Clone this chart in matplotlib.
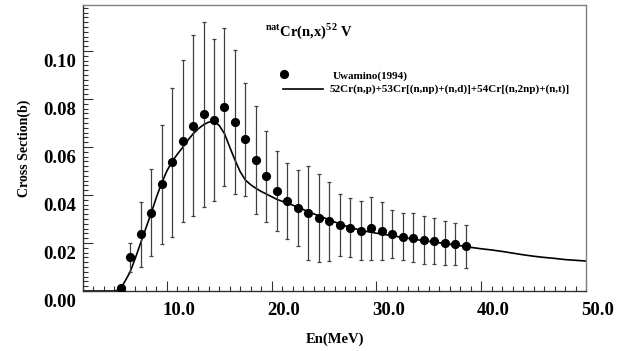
import matplotlib
matplotlib.use("Agg")
import matplotlib.pyplot as plt
import matplotlib.transforms as mtransforms
from matplotlib.lines import Line2D
from matplotlib.ticker import MultipleLocator, FixedLocator
import numpy as np

plt.rcParams["font.family"] = ["Liberation Serif", "DejaVu Serif"]
plt.rcParams["font.weight"] = "bold"
plt.rcParams["mathtext.fontset"] = "custom"
plt.rcParams["mathtext.rm"] = "Liberation Serif:bold"
plt.rcParams["mathtext.bf"] = "Liberation Serif:bold"

# Uwamino (1994) measurement: neutron energy (MeV), cross section (b), uncertainty (b)
exp_energy = [5.6, 6.5, 7.5, 8.5, 9.5, 10.5, 11.5, 12.5, 13.5, 14.5,
              15.5, 16.5, 17.5, 18.5, 19.5, 20.5, 21.5, 22.5, 23.5, 24.5,
              25.5, 26.5, 27.5, 28.5, 29.5, 30.5, 31.5, 32.5, 33.5, 34.5,
              35.5, 36.5, 37.5, 38.5]
exp_xs = [0.0014, 0.0140, 0.0236, 0.0326, 0.0445, 0.0536, 0.0625, 0.0689, 0.0736, 0.0713,
          0.0768, 0.0705, 0.0632, 0.0546, 0.0479, 0.0417, 0.0376, 0.0347, 0.0325, 0.0305,
          0.0291, 0.0275, 0.0264, 0.0251, 0.0261, 0.0250, 0.0239, 0.0226, 0.0222, 0.0214,
          0.0208, 0.0200, 0.0195, 0.0186]
exp_err = [0.0000, 0.0060, 0.0137, 0.0182, 0.0247, 0.0310, 0.0339, 0.0377, 0.0386, 0.0337,
           0.0330, 0.0300, 0.0236, 0.0226, 0.0190, 0.0166, 0.0158, 0.0158, 0.0196, 0.0184,
           0.0165, 0.0130, 0.0123, 0.0123, 0.0130, 0.0120, 0.0100, 0.0098, 0.0102, 0.0100,
           0.0096, 0.0090, 0.0087, 0.0091]

# Summed evaluated reaction channels
calc_energy = [2.0, 3.0, 4.0, 5.0, 5.5, 6.0, 6.5, 7.0, 7.5, 8.0,
               8.5, 9.0, 9.5, 10.0, 10.5, 11.0, 11.5, 12.0, 12.5, 13.0,
               13.5, 14.0, 14.5, 15.0, 15.5, 16.0, 16.5, 17.0, 17.5, 18.0,
               18.5, 19.0, 19.5, 20.0, 20.5, 21.0, 21.5, 22.0, 22.5, 23.0,
               24.0, 25.0, 26.0, 27.0, 28.0, 29.0, 30.0, 31.0, 32.0, 33.0,
               34.0, 35.0, 36.0, 37.0, 38.0, 39.0, 40.0, 41.0, 42.0, 43.0,
               44.0, 45.0, 46.0, 47.0, 48.0, 49.0, 50.0]
calc_xs = [0.0, 0.0, 0.0, 0.0, 0.0005, 0.0040, 0.0080, 0.0138, 0.0200, 0.0262,
           0.0324, 0.0390, 0.0450, 0.0500, 0.0540, 0.0570, 0.0598, 0.0628, 0.0655, 0.0676,
           0.0693, 0.0704, 0.0707, 0.0690, 0.0656, 0.0600, 0.0546, 0.0497, 0.0462, 0.0443,
           0.0428, 0.0415, 0.0404, 0.0393, 0.0382, 0.0374, 0.0366, 0.0358, 0.0350, 0.0340,
           0.0322, 0.0305, 0.0288, 0.0272, 0.0259, 0.0249, 0.0241, 0.0234, 0.0227, 0.0220,
           0.0213, 0.0207, 0.0201, 0.0195, 0.0189, 0.0182, 0.0176, 0.0171, 0.0165, 0.0158,
           0.0151, 0.0145, 0.0140, 0.0136, 0.0131, 0.0128, 0.0125]

x_ticks = [10, 20, 30, 40, 50]
x_ticklabels = ["10.0", "20.0", "30.0", "40.0", "50.0"]
y_ticks = [0.00, 0.02, 0.04, 0.06, 0.08, 0.10]
y_ticklabels = ["0.00", "0.02", "0.04", "0.06", "0.08", "0.10"]

fig = plt.figure(figsize=(6.43, 3.51), dpi=100)
ax = fig.add_axes([0.1291, 0.1709, 0.7823, 0.8148])

ax.plot(calc_energy, calc_xs, color="black", lw=1.2, zorder=2)
ax.errorbar(exp_energy, exp_xs, yerr=exp_err, fmt="o", color="black",
            markersize=5.6, ecolor="#404040", elinewidth=0.9,
            capsize=1.5, capthick=0.9, zorder=3)

ax.set_xlim(2.0, 50.0)
ax.set_ylim(0.0, 0.1192)

ax.xaxis.set_major_locator(FixedLocator(x_ticks))
ax.set_xticklabels(x_ticklabels)
ax.xaxis.set_minor_locator(MultipleLocator(1.0))
ax.yaxis.set_major_locator(FixedLocator(y_ticks))
ax.set_yticklabels(y_ticklabels)
ax.yaxis.set_minor_locator(MultipleLocator(0.002))

ax.tick_params(axis="both", which="both", direction="in", top=False, right=False,
               color="#333333", width=0.8)
ax.tick_params(axis="both", which="major", length=7, labelsize=13.5)
ax.tick_params(axis="both", which="minor", length=3.5)
ax.tick_params(axis="x", which="major", pad=8)
ax.tick_params(axis="y", which="major", pad=5)

# Tick labels sit slightly off their ticks: right for x, below for y
dx = mtransforms.ScaledTranslation(12 / 100, 0, fig.dpi_scale_trans)
for lab in ax.get_xticklabels():
    lab.set_transform(lab.get_transform() + dx)
    lab.set_fontweight("bold")
dy = mtransforms.ScaledTranslation(0, -9 / 100, fig.dpi_scale_trans)
for lab in ax.get_yticklabels():
    lab.set_transform(lab.get_transform() + dy)
    lab.set_fontweight("bold")

for side in ["top", "right"]:
    ax.spines[side].set_color("#808080")
    ax.spines[side].set_linewidth(1.0)
for side in ["left", "bottom"]:
    ax.spines[side].set_color("#333333")
    ax.spines[side].set_linewidth(1.0)

ax.set_xlabel("En(MeV)", fontsize=10.5, fontweight="bold", labelpad=10)
ax.set_ylabel("Cross Section(b)", fontsize=10, fontweight="bold", labelpad=9)

ax.text(0.362, 0.892, r"$^{\rm nat}$Cr(n,x)$^{\rm 52}$ V", transform=ax.transAxes,
        fontsize=10.5, fontweight="bold", ha="left", va="baseline")

# Legend entries
ax.add_line(Line2D([0.3996], [0.759], marker="o", markersize=5.6, color="black",
                   linestyle="none", transform=ax.transAxes))
ax.add_line(Line2D([0.3976, 0.477], [0.706, 0.706], color="black", lw=1.2,
                   transform=ax.transAxes))
ax.text(0.497, 0.752, "Uwamino(1994)", transform=ax.transAxes, fontsize=8,
        fontweight="bold", ha="left", va="center")
ax.text(0.491, 0.706, "52Cr(n,p)+53Cr[(n,np)+(n,d)]+54Cr[(n,2np)+(n,t)]",
        transform=ax.transAxes, fontsize=8, fontweight="bold", ha="left", va="center")

fig.savefig("out.png", dpi=100)
